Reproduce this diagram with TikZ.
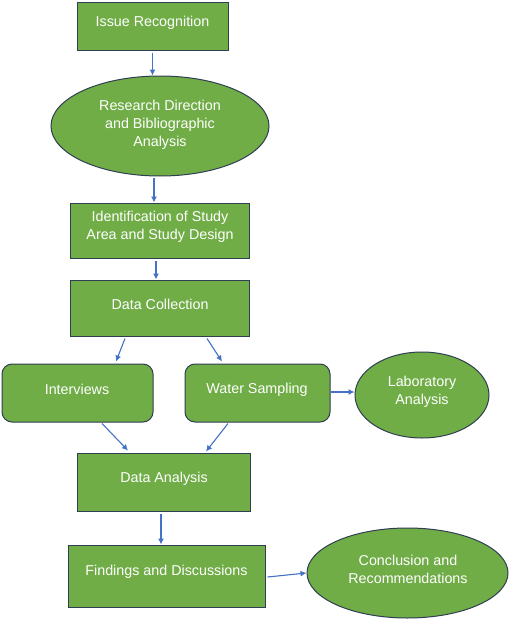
\documentclass[tikz,border=0pt]{standalone}
\usepackage{fontspec}
\setmainfont{Liberation Sans}
\usetikzlibrary{shapes.geometric,arrows.meta,calc}
\definecolor{fillg}{HTML}{70AD47}
\definecolor{edgeb}{HTML}{2F3E52}
\definecolor{arrb}{HTML}{4472C4}
\tikzset{
  shp/.style={draw=edgeb, fill=fillg, line width=1pt, inner sep=0pt},
  boxr/.style={shp, rectangle},
  rbox/.style={shp, rectangle, rounded corners=10pt},
  ell/.style={shp, ellipse},
  txt/.style={text=white, align=center, inner sep=0pt, font=\fontsize{14.3}{18}\selectfont},
  arr/.style={draw=arrb, line width=1.1pt, -{Latex[length=6pt,width=6pt]}}
}
\begin{document}
\begin{tikzpicture}[x=1pt,y=-1pt]
\useasboundingbox (0,0) rectangle (510,621);
% shapes
\node[boxr, minimum width=151, minimum height=48] (issue) at (152.5,26) {};
\node[ell, minimum width=218, minimum height=100] (ell1) at (160,126) {};
\node[boxr, minimum width=179, minimum height=55] (ident) at (159.5,230.5) {};
\node[boxr, minimum width=179, minimum height=56] (dc) at (159.5,308) {};
\node[rbox, minimum width=151, minimum height=58] (intv) at (77.5,393) {};
\node[rbox, minimum width=145, minimum height=58] (water) at (257.5,393) {};
\node[ell, minimum width=134, minimum height=86] (lab) at (422,395) {};
\node[boxr, minimum width=173, minimum height=58] (da) at (164,482) {};
\node[boxr, minimum width=197, minimum height=62] (find) at (166.5,576) {};
\node[ell, minimum width=201, minimum height=90] (concl) at (407.5,573) {};
% texts
\node[txt] (t1) at (152.5,22.5) {Issue Recognition};
\node[txt] (t2) at (160,125) {Research Direction\\and Bibliographic\\Analysis};
\node[txt] (t3) at (160,227) {Identification of Study\\Area and Study Design};
\node[txt] (t4) at (160,304.5) {Data Collection};
\node[txt] (t5) at (77,389.5) {Interviews};
\node[txt] (t6) at (257,389.5) {Water Sampling};
\node[txt] (t7) at (422,391.5) {Laboratory\\Analysis};
\node[txt] (t8) at (164,478.5) {Data Analysis};
\node[txt] (t9) at (166.5,571.5) {Findings and Discussions};
\node[txt] (t10) at (408,569) {Conclusion and\\Recommendations};
% connector start points
\coordinate (s1) at ($(issue.south)+(0,2)$);
\coordinate (s2) at ($(ell1.south)+(-6,1)$);
\coordinate (s3) at ($(ident.south)+(-3.5,2)$);
\coordinate (s4) at ($(water.east)+(0,-1)$);
\coordinate (s5) at ($(da.south)+(-3,2)$);
% connectors
\draw[arr] (s1) -- (s1 |- ell1.north);
\draw[arr] (s2) -- (s2 |- ident.north);
\draw[arr] (s3) -- (s3 |- dc.north);
\draw[arr] ($(dc.south)+(-34.5,2)$) -- ($(intv.north)+(38.5,-2)$);
\draw[arr] ($(dc.south)+(47.5,2)$) -- ($(water.north)+(-35.5,-2)$);
\draw[arr] (s4) -- (s4 -| lab.west);
\draw[arr] ($(intv.south)+(24.5,1)$) -- ($(da.north)+(-36,-2)$);
\draw[arr] ($(water.south)+(-29.5,1)$) -- ($(da.north)+(42,-1)$);
\draw[arr] (s5) -- (s5 |- find.north);
\draw[arr] ($(find.east)+(2,1)$) -- (concl.west);
\end{tikzpicture}
\end{document}
